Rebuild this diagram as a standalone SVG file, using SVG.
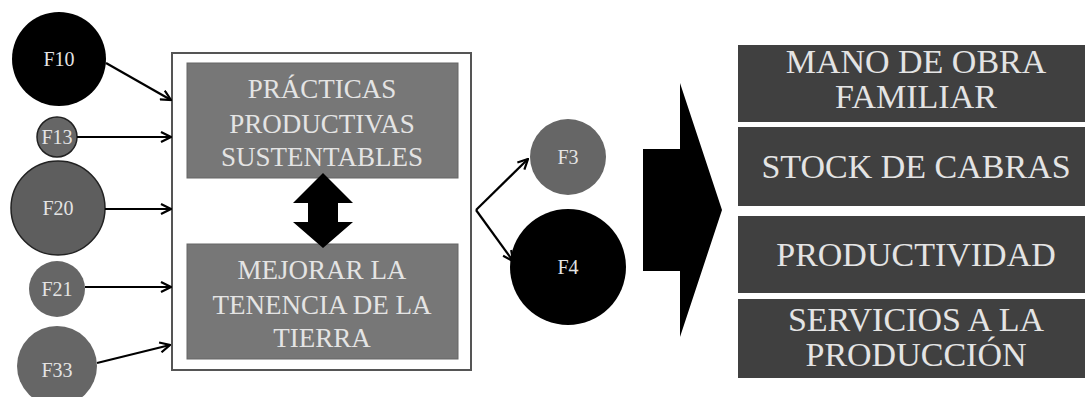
<svg xmlns="http://www.w3.org/2000/svg" width="1085" height="397" viewBox="0 0 1085 397">
<defs>
<style>
text{font-family:'Liberation Serif','Times New Roman','DejaVu Serif',serif}
.lbl{fill:#e4e4e4;text-anchor:middle}
.cl{font-size:20px}
.bl{font-size:27px}
.rl{font-size:34px}
.con{stroke:#000;stroke-width:2.2;fill:none}
.gc{fill:#666}
.dark{fill:#404040}
.mid{fill:#777;stroke:#666;stroke-width:1}
</style>
<marker id="ah" viewBox="0 0 12 12" refX="11" refY="6" markerWidth="12" markerHeight="12" markerUnits="userSpaceOnUse" orient="auto">
<path d="M1,1 L11,6 L1,11" fill="none" stroke="#000" stroke-width="2.2"/>
</marker>
</defs>
<rect width="1085" height="397" fill="#fff"/>

<g id="container">
<rect x="172" y="53" width="299" height="317" fill="#fff" stroke="#555" stroke-width="2"/>
</g>
<g id="practicas">
<rect class="mid" x="187" y="63" width="271" height="115"/>
<text class="lbl bl" x="322" y="98" font-family="Liberation Serif, serif">PRÁCTICAS</text>
<text class="lbl bl" x="322" y="133" font-family="Liberation Serif, serif">PRODUCTIVAS</text>
<text class="lbl bl" x="322" y="166" font-family="Liberation Serif, serif">SUSTENTABLES</text>
</g>
<g id="tenencia">
<rect class="mid" x="187" y="244" width="271" height="115"/>
<text class="lbl bl" x="322" y="279" font-family="Liberation Serif, serif">MEJORAR LA</text>
<text class="lbl bl" x="322" y="314" font-family="Liberation Serif, serif">TENENCIA DE LA</text>
<text class="lbl bl" x="322" y="347" font-family="Liberation Serif, serif">TIERRA</text>
</g>

<g id="F10"><circle cx="59" cy="59" r="47" fill="#000"/><text class="lbl cl" x="59" y="66" font-family="Liberation Serif, serif">F10</text></g>
<g id="F13"><circle cx="57" cy="137" r="20" class="gc" stroke="#222" stroke-width="1.5"/><text class="lbl cl" x="57" y="144" font-family="Liberation Serif, serif">F13</text></g>
<g id="F20"><circle cx="58" cy="208" r="47" fill="#5e5e5e" stroke="#222" stroke-width="1.5"/><text class="lbl cl" x="58" y="215" font-family="Liberation Serif, serif">F20</text></g>
<g id="F21"><circle cx="57" cy="289" r="28" class="gc"/><text class="lbl cl" x="57" y="296" font-family="Liberation Serif, serif">F21</text></g>
<g id="F33"><circle cx="57" cy="366" r="40" class="gc"/><text class="lbl cl" x="57" y="377" font-family="Liberation Serif, serif">F33</text></g>
<g id="F3"><circle cx="568" cy="157" r="38" class="gc"/><text class="lbl cl" x="568" y="164" font-family="Liberation Serif, serif">F3</text></g>
<g id="F4"><circle cx="568" cy="267" r="58" fill="#000"/><text class="lbl cl" x="568" y="274" font-family="Liberation Serif, serif">F4</text></g>

<g id="bigarrow">
<path d="M643,149 H680 V83 L722,210 L680,337 V271 H643 Z" fill="#000"/>
</g>
<g id="doublearrow">
<path d="M323,173 L353,203 H338 V222 H353 L323,248 L293,222 H308 V203 H293 Z" fill="#000"/>
</g>

<g id="mano"><rect class="dark" x="738" y="45" width="347" height="77"/><text class="lbl rl" x="916" y="73" font-family="Liberation Serif, serif">MANO DE OBRA</text><text class="lbl rl" x="916" y="108" font-family="Liberation Serif, serif">FAMILIAR</text></g>
<g id="stock"><rect class="dark" x="738" y="127" width="347" height="79"/><text class="lbl rl" x="916" y="178" font-family="Liberation Serif, serif">STOCK DE CABRAS</text></g>
<g id="productividad"><rect class="dark" x="738" y="216" width="347" height="77"/><text class="lbl rl" x="916" y="266" font-family="Liberation Serif, serif">PRODUCTIVIDAD</text></g>
<g id="servicios"><rect class="dark" x="738" y="299" width="347" height="79"/><text class="lbl rl" x="916" y="331" font-family="Liberation Serif, serif">SERVICIOS A LA</text><text class="lbl rl" x="916" y="366" font-family="Liberation Serif, serif">PRODUCCIÓN</text></g>

<g id="connectors">
<line class="con" x1="106" y1="63" x2="171" y2="100" marker-end="url(#ah)"/>
<line class="con" x1="77" y1="137" x2="171" y2="137" marker-end="url(#ah)"/>
<line class="con" x1="105" y1="209" x2="171" y2="209" marker-end="url(#ah)"/>
<line class="con" x1="85" y1="287" x2="171" y2="287" marker-end="url(#ah)"/>
<line class="con" x1="97" y1="363" x2="170" y2="345" marker-end="url(#ah)"/>
<line class="con" x1="476" y1="210" x2="528" y2="159" marker-end="url(#ah)"/>
<line class="con" x1="476" y1="210" x2="513" y2="261" marker-end="url(#ah)"/>
</g>
</svg>
